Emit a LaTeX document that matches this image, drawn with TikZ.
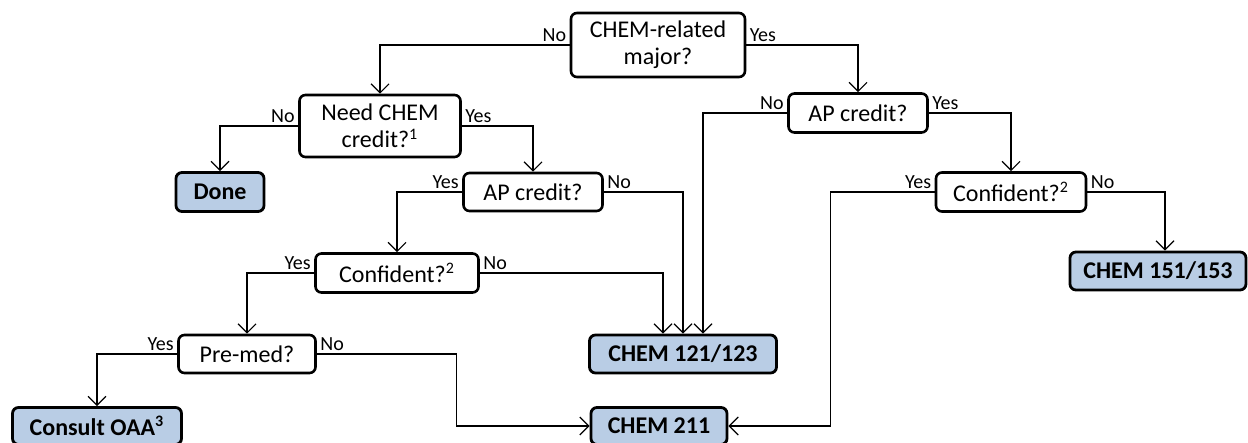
\documentclass[tikz,border=0pt]{standalone}
\usepackage{fontspec}
\setmainfont{Carlito}
\usepackage{xcolor}
\usetikzlibrary{arrows.meta, positioning, calc}

\definecolor{boxblue}{HTML}{B9CDE5}

\tikzset{
    question/.style={draw, line width=1.3pt, rounded corners=3pt, align=center,
        inner sep=2pt, font=\fontsize{12}{13.5}\selectfont},
    result/.style={draw, line width=1.4pt, rounded corners=3pt, fill=boxblue,
        inner sep=2pt, font=\fontsize{12}{13.5}\selectfont\bfseries},
    lbl/.style={inner sep=1.5pt, font=\fontsize{10}{12}\selectfont},
    link/.style={->, line width=0.6pt}
}

\begin{document}
\begin{tikzpicture}[x=0.5pt, y=-0.5pt, >={Straight Barb[length=4.5pt, width=9pt]}]
    \useasboundingbox (0,0) rectangle (1248,443);

    % Questions
    \node[question, minimum width=87pt, minimum height=32pt] (major) at (658,45) {CHEM-related\\major?};
    \node[question, minimum width=80.5pt, minimum height=31pt] (need) at (380,126) {Need CHEM\\credit?\textsuperscript{1}};
    \node[question, minimum width=69.5pt, minimum height=19pt] (apL) at (533,192) {AP credit?};
    \node[question, minimum width=81.5pt, minimum height=19.5pt] (confL) at (397,273) {Confident?\textsuperscript{2}};
    \node[question, minimum width=68.5pt, minimum height=19pt] (premed) at (247,354) {Pre-med?};
    \node[question, minimum width=69.5pt, minimum height=19.5pt] (apR) at (858,113) {AP credit?};
    \node[question, minimum width=75pt, minimum height=19.5pt] (confR) at (1011,192) {Confident?\textsuperscript{2}};

    % Resultats
    \node[result, minimum width=44pt, minimum height=19.5pt] (done) at (220,192) {Done};
    \node[result, minimum width=93.5pt, minimum height=19pt] (c121) at (683,354) {CHEM 121/123};
    \node[result, minimum width=68pt, minimum height=18.5pt] (c211) at (659,426) {CHEM 211};
    \node[result, minimum width=84.5pt, minimum height=18.5pt] (consult) at (97,426) {Consult OAA\textsuperscript{3}};
    \node[result, minimum width=88pt, minimum height=19pt] (c151) at (1158,271) {CHEM 151/153};

    % Liens
    \draw[link] (major.west) node[lbl, above left] {No} -| (need.north);
    \draw[link] (major.east) node[lbl, above right] {Yes} -| (apR.north);
    \draw[link] (need.west) node[lbl, above left] {No} -| (done.north);
    \draw[link] (need.east) node[lbl, above right] {Yes} -| (apL.north);
    \draw[link] (apL.west) node[lbl, above left] {Yes} -| (confL.north);
    \draw[link] (apL.east) node[lbl, above right] {No} -| (c121.north);
    \draw[link] (confL.west) node[lbl, above left] {Yes} -| (premed.north);
    \draw[link] (confL.east) node[lbl, above right] {No} -| ($(c121.north)+(-20,0)$);
    \draw[link] (premed.west) node[lbl, above left] {Yes} -| (consult.north);
    \draw[link] (premed.east) node[lbl, above right] {No} -- ++(140,0) |- (c211.west);
    \draw[link] (apR.west) node[lbl, above left] {No} -| ($(c121.north)+(20,0)$);
    \draw[link] (apR.east) node[lbl, above right] {Yes} -| (confR.north);
    \draw[link] (confR.west) node[lbl, above left] {Yes} -- ++(-104,0) |- (c211.east);
    \draw[link] (confR.east) node[lbl, above right] {No} -| ($(c151.north)+(7,0)$);
\end{tikzpicture}
\end{document}
